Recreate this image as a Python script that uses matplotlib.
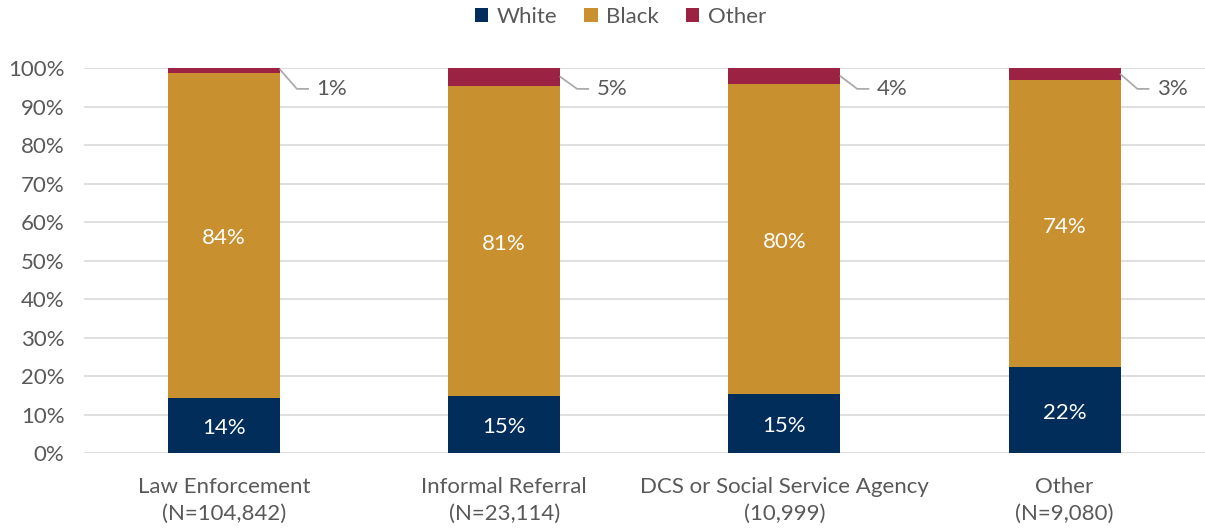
import numpy as np
import matplotlib.pyplot as plt

plt.rcParams['font.family'] = ['Lato', 'DejaVu Sans']

categories = ["Law Enforcement\n(N=104,842)", "Informal Referral\n(N=23,114)",
              "DCS or Social Service Agency\n(10,999)", "Other\n(N=9,080)"]
white = [14.4, 14.9, 15.4, 22.4]
black = [84.4, 80.58, 80.4, 74.4]
other = [1.2, 4.52, 4.2, 3.2]

c_white = "#002D59"
c_black = "#C8902E"
c_other = "#9B2242"
gray = "#595959"
fs = 16

fig = plt.figure(figsize=(12.05, 5.28), dpi=100)
ax = fig.add_axes([0.0697, 0.142, 0.93, 0.729])

x = np.arange(len(categories))
w = 0.4
ax.bar(x, white, w, color=c_white, label="White", zorder=3)
ax.bar(x, black, w, bottom=white, color=c_black, label="Black", zorder=3)
ax.bar(x, other, w, bottom=np.add(white, black), color=c_other, label="Other", zorder=3)

for i in range(len(x)):
    ax.text(x[i], white[i] / 2 - 0.8, f"{white[i]:.0f}%", ha="center", va="center",
            color="white", fontsize=fs)
    ax.text(x[i], white[i] + black[i] / 2 - 0.8, f"{black[i]:.0f}%", ha="center", va="center",
            color="white", fontsize=fs)
    # leader line for the thin top segment
    right = x[i] + w / 2
    y0 = 100 - other[i] / 2 if other[i] > 2 else 99.6
    ly = 94.6
    ax.plot([right, right + 0.06, right + 0.1], [y0, ly, ly], color="#A6A6A6", lw=1.2,
            zorder=4, clip_on=False)
    ax.text(right + 0.13, ly, f"{other[i]:.0f}%", ha="left", va="center", color=gray, fontsize=fs)

ax.set_xlim(-0.5, 3.5)
ax.set_ylim(0, 100)
ax.set_yticks(np.arange(0, 101, 10))
ax.set_yticklabels([f"{v}%" for v in range(0, 101, 10)])
ax.set_xticks(x)
ax.set_xticklabels(categories, linespacing=1.45)
ax.tick_params(axis="both", length=0, labelsize=fs, labelcolor=gray)
ax.tick_params(axis="x", pad=17)
ax.tick_params(axis="y", pad=14)
ax.grid(axis="y", color="#D9D9D9", lw=1.2, zorder=0)
for s in ax.spines.values():
    s.set_visible(False)

fig.legend(loc="upper center", bbox_to_anchor=(0.515, 1.025), ncol=3, frameon=False,
           fontsize=fs, labelcolor=gray, handlelength=0.6, handleheight=0.6,
           handletextpad=0.4, columnspacing=1.2)

fig.savefig("out.png", dpi=100)
